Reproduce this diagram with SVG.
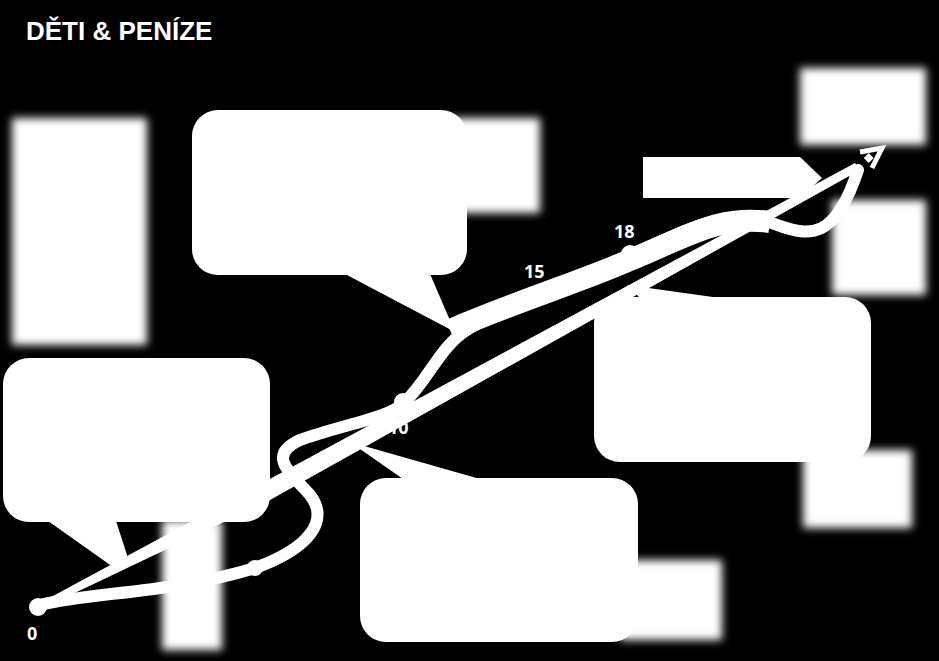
<svg xmlns="http://www.w3.org/2000/svg" width="939" height="661" viewBox="0 0 939 661">
<defs>
<filter id="blur" x="-20%" y="-20%" width="140%" height="140%"><feGaussianBlur stdDeviation="4"/></filter>
<style>
.w{fill:#fff}
.bl{fill:#fff;filter:url(#blur)}
.lbl{fill:#fff;font-family:"Open Sans","Liberation Sans",sans-serif;font-weight:bold;font-size:18px}
</style>
</defs>
<rect width="939" height="661" fill="#000"/>
<text x="26" y="40" fill="#fff" font-family="Liberation Sans, Arial, sans-serif" font-weight="bold" font-size="26">DĚTI &amp; PENÍZE</text>
<g id="blurred">
<rect class="bl" x="12" y="118" width="135" height="227"/>
<rect class="bl" x="440" y="118" width="100" height="95"/>
<rect class="bl" x="800" y="68" width="126" height="77"/>
<rect class="bl" x="832" y="200" width="94" height="95"/>
<rect class="bl" x="803" y="450" width="109" height="78"/>
<rect class="bl" x="162" y="520" width="60" height="130"/>
<rect class="bl" x="620" y="560" width="102" height="80"/>
</g>
<g id="bubble-top">
<rect class="w" x="192" y="110" width="275" height="165" rx="26"/>
<polygon class="w" points="345,274 430,274 455,332"/>
</g>
<g id="bubble-left">
<rect class="w" x="3" y="358" width="267" height="164" rx="26"/>
<polygon class="w" points="48,521 116,521 128,558 113,567"/>
</g>
<g id="bubble-bottom">
<rect class="w" x="360" y="478" width="278" height="164" rx="26"/>
<polygon class="w" points="350,442 403,479 480,479"/>
</g>
<g id="bubble-right">
<rect class="w" x="594" y="297" width="277" height="165" rx="26"/>
<polygon class="w" points="627,285 640,298 720,298"/>
</g>
<g id="banner">
<polygon class="w" points="643,157 800,157 822,178 800,198 643,198"/>
</g>
<g id="connectors">
<polygon class="w" points="40,603 855,163 860,170 270,500 60,600"/>
<path d="M40,605 C90,592 170,594 255,568 C310,548 330,520 310,495 C292,474 265,456 300,440 C340,425 390,418 405,402 C430,378 440,345 470,328 C520,300 580,278 630,256 C690,228 730,205 780,226 C810,236 835,240 858,170" fill="none" stroke="#fff" stroke-width="12" stroke-linecap="round"/>
<path d="M450,330 C520,300 580,282 630,260 C690,235 720,215 770,222" fill="none" stroke="#fff" stroke-width="22"/>
<polyline points="860,152 882,148 872,168" fill="none" stroke="#fff" stroke-width="5"/>
<rect class="w" x="865" y="154" width="7" height="7" transform="rotate(45 868 158)"/>
</g>
<g id="dots">
<circle class="w" cx="38" cy="607" r="9"/>
<circle class="w" cx="255" cy="568" r="8"/>
<circle class="w" cx="403" cy="402" r="9"/>
<circle class="w" cx="541" cy="293" r="8"/>
<circle class="w" cx="630" cy="254" r="9"/>
<text class="lbl" x="27" y="640">0</text>
<text class="lbl" x="388" y="434">10</text>
<text class="lbl" x="524" y="278">15</text>
<text class="lbl" x="614" y="238">18</text>
</g>
</svg>
